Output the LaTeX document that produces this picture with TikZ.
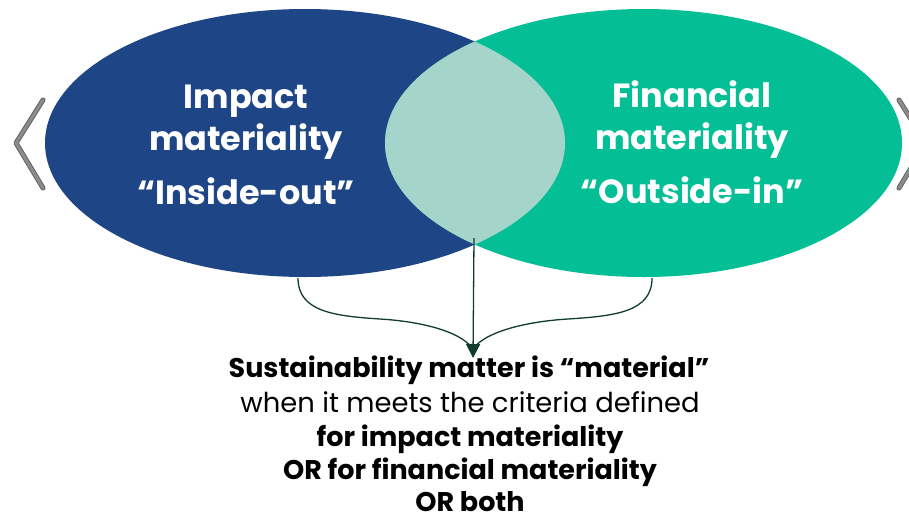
\documentclass[tikz,border=0pt]{standalone}
\usepackage{fontspec}
\setmainfont{Poppins}
\usetikzlibrary{arrows.meta}
\definecolor{impactblue}{RGB}{30,69,134}
\definecolor{fingreen}{RGB}{4,190,149}
\definecolor{overlap}{RGB}{165,213,202}
\definecolor{bracecol}{RGB}{16,60,48}
\definecolor{chevedge}{RGB}{100,100,100}
\definecolor{chevfill}{RGB}{140,140,140}
\begin{document}
\begin{tikzpicture}[x=1pt,y=-1pt,
  circtitle/.style={text=white, font=\fontsize{33.5}{40}\selectfont\bfseries, anchor=base, inner sep=0pt},
  boldline/.style={font=\fontsize{27}{32}\selectfont\bfseries, anchor=base, inner sep=0pt},
  plainline/.style={font=\fontsize{27.4}{32}\selectfont, anchor=base, inner sep=0pt},
  connector/.style={draw=bracecol, line width=1.3pt},
  chevouter/.style={line width=5pt, draw=chevedge, line cap=round, line join=round},
  chevinner/.style={line width=3pt, draw=chevfill, line cap=round, line join=round}]
\useasboundingbox (0,0) rectangle (909,514);

% the two materiality circles and their overlap
\fill[impactblue] (305,143) ellipse [x radius=260, y radius=134];
\fill[fingreen] (643.5,143) ellipse [x radius=258.5, y radius=134];
\begin{scope}
  \clip (305,143) ellipse [x radius=260, y radius=134];
  \fill[overlap] (643.5,143) ellipse [x radius=258.5, y radius=134];
\end{scope}

% navigation chevrons
\draw[chevouter] (43,100) -- (16,143) -- (43,188);
\draw[chevinner] (43,100) -- (16,143) -- (43,188);
\draw[chevouter] (899,100) -- (926,143) -- (899,188);
\draw[chevinner] (899,100) -- (926,143) -- (899,188);

% circle titles
\node[circtitle] (imp1) at (246,108) {Impact};
\node[circtitle] (imp2) at (246,150) {materiality};
\node[circtitle] (imp3) at (246,204) {“Inside-out”};
\node[circtitle] (fin1) at (692,107) {Financial};
\node[circtitle] (fin2) at (692,149) {materiality};
\node[circtitle] (fin3) at (692,203) {“Outside-in”};

% brace gathering both circles
\coordinate (braceL) at (298,278);
\coordinate (braceR) at (652,278);
\coordinate (braceTip) at (473,350);
\coordinate (lensbot) at (474,238);
\coordinate (arrowend) at (473,358);
\draw[connector] (braceL) .. controls (298,312) and (335,316) .. (380,319)
  .. controls (430,322) and (466,335) .. (braceTip);
\draw[connector] (braceR) .. controls (652,312) and (615,316) .. (568,319)
  .. controls (518,322) and (480,335) .. (braceTip);
\draw[connector, -{Triangle[length=14pt,width=14pt]}] (lensbot) -- (arrowend);

% conclusion
\node[boldline] (c1) at (469,377) {Sustainability matter is “material”};
\node[plainline] (c2) at (470,412) {when it meets the criteria defined};
\node[boldline] (c3) at (470,446) {for impact materiality};
\node[boldline] (c4) at (470,479) {OR for financial materiality};
\node[boldline] (c5) at (470,511) {OR both};
\end{tikzpicture}
\end{document}
